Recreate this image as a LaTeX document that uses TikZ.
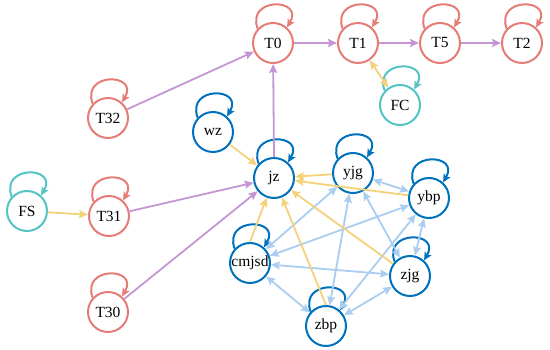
\documentclass[tikz,border=0pt]{standalone}
\usepackage{fontspec}
\setmainfont{Liberation Serif}
\usetikzlibrary{arrows.meta}
\definecolor{cred}{RGB}{229,125,118}
\definecolor{cteal}{RGB}{84,196,196}
\definecolor{cblue}{RGB}{0,114,189}
\definecolor{cpurp}{RGB}{196,150,212}
\definecolor{cyell}{RGB}{243,210,122}
\definecolor{clblue}{RGB}{170,205,240}
\newcommand\selfloop[2]{\draw[#2,line width=2pt,-{Stealth[length=8pt,width=7.5pt,inset=1.5pt]}] (#1.137) .. controls +(110:34pt) and +(60:34pt) .. (#1.48);}
\begin{document}
\begin{tikzpicture}[x=1pt,y=-1pt,
  nd/.style={circle,draw,line width=2pt,minimum size=40pt,inner sep=0pt,fill=white,font=\fontsize{15.5}{15.5}\selectfont},
  rn/.style={nd,draw=cred},
  tn/.style={nd,draw=cteal},
  bn/.style={nd,draw=cblue},
  edg/.style={line width=1.8pt,-{Stealth[length=9pt,width=8pt,inset=1.5pt]}},
  bedg/.style={line width=1.8pt,{Stealth[length=9pt,width=8pt,inset=1.5pt]}-{Stealth[length=9pt,width=8pt,inset=1.5pt]}},
  pe/.style={edg,draw=cpurp,fill=cpurp},
  ye/.style={edg,draw=cyell,fill=cyell},
  yb/.style={bedg,draw=cyell,fill=cyell},
  le/.style={bedg,draw=clblue,fill=clblue},
]
\useasboundingbox (0,0) rectangle (550,350);
% nodes
\node[rn] (T0) at (273,43) {T0};
\node[rn] (T1) at (358,43) {T1};
\node[rn] (T5) at (440,43) {T5};
\node[rn] (T2) at (522,43) {T2};
\node[tn] (FC) at (400,105) {FC};
\node[rn] (T32) at (108,118) {T32};
\node[bn] (wz) at (213,132) {wz};
\node[tn] (FS) at (27,211) {FS};
\node[rn] (T31) at (109,216) {T31};
\node[rn] (T30) at (108,312) {T30};
\node[bn] (jz) at (274,178) {jz};
\node[bn] (yjg) at (353,173) {yjg};
\node[bn] (ybp) at (429,198) {ybp};
\node[bn] (cmjsd) at (250,263) {cmjsd};
\node[bn] (zjg) at (410,276) {zjg};
\node[bn] (zbp) at (326,326) {zbp};
% self loops
\foreach \n in {T0,T1,T5,T2,T32,T31,T30}{\selfloop{\n}{cred}}
\foreach \n in {FC,FS}{\selfloop{\n}{cteal}}
\foreach \n in {wz,jz,yjg,ybp,cmjsd,zjg,zbp}{\selfloop{\n}{cblue}}
% light blue complete graph
\draw[le] (yjg) -- (ybp);
\draw[le] (yjg) -- (cmjsd);
\draw[le] (yjg) -- (zjg);
\draw[le] (yjg) -- (zbp);
\draw[le] (ybp) -- (cmjsd);
\draw[le] (ybp) -- (zjg);
\draw[le] (ybp) -- (zbp);
\draw[le] (cmjsd) -- (zjg);
\draw[le] (cmjsd) -- (zbp);
\draw[le] (zjg) -- (zbp);
% yellow
\draw[yb] (T1) -- (FC);
\draw[ye] (FS) -- (T31);
\draw[ye] (wz) -- (jz);
\draw[ye] (yjg) -- (jz);
\draw[ye] (ybp) -- (jz);
\draw[ye] (cmjsd.north) -- (jz);
\draw[ye] (zbp.north) -- (jz);
\draw[ye] (zjg) -- (jz);
% purple
\draw[pe] (T32) -- (T0);
\draw[pe] (T0) -- (T1);
\draw[pe] (T1) -- (T5);
\draw[pe] (T5) -- (T2);
\draw[pe] (jz.north) -- (T0);
\draw[pe] (T31) -- (jz);
\draw[pe] (T30) -- (jz);
\end{tikzpicture}
\end{document}
